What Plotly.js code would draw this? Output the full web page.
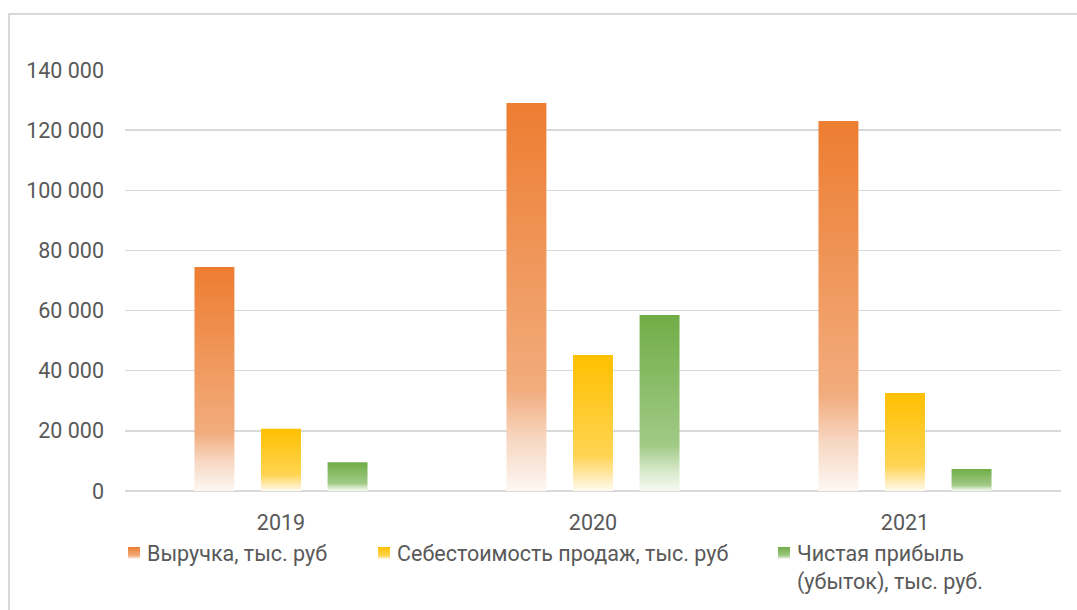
<!DOCTYPE html>
<html>
<head>
<meta charset="utf-8">
<script src="https://cdn.plot.ly/plotly-3.0.1.min.js"></script>
<style>
  html, body { margin: 0; padding: 0; background: #ffffff; }
  #wrap { position: relative; width: 1077px; height: 610px; overflow: hidden; }
  #frame { position: absolute; left: 8px; top: 13px; width: 1100px; height: 700px;
           border-left: 2px solid #D9D9D9; border-top: 2px solid #D9D9D9; box-sizing: border-box; }
  #chart { position: absolute; left: 0; top: 0; width: 1077px; height: 610px; }
</style>
</head>
<body>
<div id="wrap">
  <div id="frame"></div>
  <div id="chart"></div>
</div>
<script>
// ---- data ----
const years = ["2019", "2020", "2021"];
const revenue = [74500, 129000, 123000];
const costOfSales = [20700, 45200, 32600];
const netProfit = [9600, 58500, 7300];
const seriesNames = [
  "Выручка, тыс. руб",
  "Себестоимость продаж, тыс. руб",
  "Чистая прибыль<br>(убыток), тыс. руб."
];
const yTickVals = [0, 20000, 40000, 60000, 80000, 100000, 120000, 140000];
const yTickText = ["0", "20 000", "40 000", "60 000", "80 000", "100 000", "120 000", "140 000"];

// ---- styles ----
const baseColors = ["#ED7D31", "#FFC000", "#70AD47"];
const gradStops = [
  [["0", "#ED7D31"], ["0.74", "#F2AC7D"], ["0.87", "#F7D8C3"], ["1", "#FDF7F3"]],
  [["0", "#FFC000"], ["0.74", "#FFD452"], ["0.88", "#FFE8A6"], ["1", "#FFFBF0"]],
  [["0", "#70AD47"], ["0.74", "#A1CA86"], ["0.87", "#D2E6C4"], ["1", "#F5FAF2"]]
];
const fontFamily = "Roboto, 'Liberation Sans', sans-serif";
const fontSize = 21.5;
const textColor = "#595959";
const legendX = [-0.0192, 0.2479, 0.6752];

const seriesValues = [revenue, costOfSales, netProfit];
const legendIds = ["legend", "legend2", "legend3"];

const traces = seriesValues.map((vals, i) => ({
  type: "bar",
  name: seriesNames[i],
  x: years,
  y: vals,
  marker: { color: baseColors[i], line: { width: 0 } },
  legend: legendIds[i],
  hoverinfo: "x+y+name"
}));

function legendCfg(i) {
  return {
    x: legendX[i], xanchor: "left",
    y: 0.127, yanchor: "top", yref: "container",
    orientation: "h",
    valign: "top",
    bgcolor: "rgba(0,0,0,0)",
    font: { family: fontFamily, size: fontSize, color: textColor }
  };
}

const layout = {
  width: 1077, height: 610,
  margin: { l: 125, r: 16, t: 70, b: 119, autoexpand: false },
  paper_bgcolor: "rgba(0,0,0,0)",
  plot_bgcolor: "rgba(0,0,0,0)",
  barmode: "group",
  bargap: 0.36,
  bargroupgap: 0.4,
  font: { family: fontFamily, size: fontSize, color: textColor },
  xaxis: {
    type: "category",
    showgrid: false, zeroline: false, showline: false,
    ticks: "", ticklabelstandoff: 16,
    tickfont: { family: fontFamily, size: fontSize, color: textColor }
  },
  yaxis: {
    range: [0, 140000],
    tickvals: yTickVals, ticktext: yTickText,
    showgrid: true, gridcolor: "#D9D9D9", gridwidth: 1.5,
    zeroline: true, zerolinecolor: "#D9D9D9", zerolinewidth: 1.5,
    showline: false, ticks: "", ticklabelstandoff: 20,
    tickfont: { family: fontFamily, size: fontSize, color: textColor }
  },
  showlegend: true,
  legend: legendCfg(0),
  legend2: legendCfg(1),
  legend3: legendCfg(2)
};

const gd = document.getElementById("chart");
Plotly.newPlot(gd, traces, layout, { displayModeBar: false, staticPlot: true }).then(() => {
  const NS = "http://www.w3.org/2000/svg";
  const svg = gd.querySelector("svg.main-svg");
  let defs = svg.querySelector("defs");
  if (!defs) { defs = document.createElementNS(NS, "defs"); svg.insertBefore(defs, svg.firstChild); }
  gradStops.forEach((stops, i) => {
    const lg = document.createElementNS(NS, "linearGradient");
    lg.setAttribute("id", "barGrad" + i);
    lg.setAttribute("x1", "0"); lg.setAttribute("y1", "0");
    lg.setAttribute("x2", "0"); lg.setAttribute("y2", "1");
    stops.forEach(([off, col]) => {
      const s = document.createElementNS(NS, "stop");
      s.setAttribute("offset", off);
      s.setAttribute("stop-color", col);
      lg.appendChild(s);
    });
    defs.appendChild(lg);
  });
  // bars
  gd.querySelectorAll(".barlayer .trace").forEach((g, i) => {
    g.querySelectorAll(".point path").forEach(p => { p.style.fill = "url(#barGrad" + i + ")"; });
  });
  // legend markers
  gd.querySelectorAll("g.traces").forEach(g => {
    const d = g.__data__;
    let idx = null;
    if (d && d[0] && d[0].trace) idx = d[0].trace.index;
    if (idx === null) return;
    const lp = g.querySelector(".legendpoints");
    if (lp) {
      const t = lp.getAttribute("transform") || "";
      lp.setAttribute("transform", "translate(7,0) " + t);
    }
    g.querySelectorAll(".legendpoints path").forEach(p => { p.style.fill = "url(#barGrad" + idx + ")"; });
  });
});
</script>
</body>
</html>
